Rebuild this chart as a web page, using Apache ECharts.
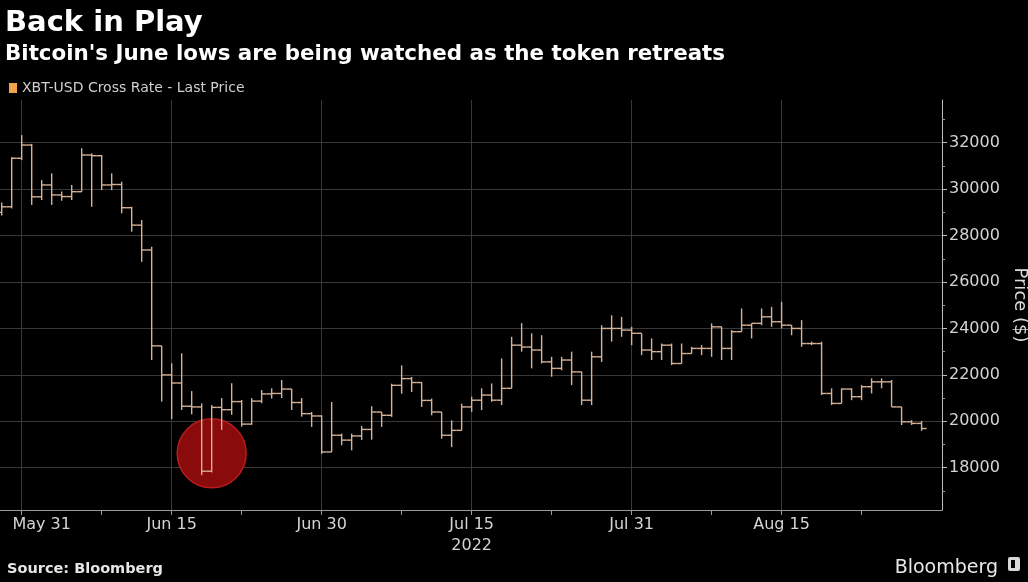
<!DOCTYPE html>
<html>
<head>
<meta charset="utf-8">
<script src="https://cdn.jsdelivr.net/npm/echarts@6/dist/echarts.min.js"></script>
<style>
html,body{margin:0;padding:0;background:#000;}
#chart{width:1028px;height:582px;}
</style>
</head>
<body>
<div id="chart"></div>
<script>
// ---- DATA ----
const dates = [
  '2022-05-29','2022-05-30','2022-05-31',
  '2022-06-01','2022-06-02','2022-06-03','2022-06-04','2022-06-05','2022-06-06','2022-06-07','2022-06-08','2022-06-09','2022-06-10',
  '2022-06-11','2022-06-12','2022-06-13','2022-06-14','2022-06-15','2022-06-16','2022-06-17','2022-06-18','2022-06-19','2022-06-20',
  '2022-06-21','2022-06-22','2022-06-23','2022-06-24','2022-06-25','2022-06-26','2022-06-27','2022-06-28','2022-06-29','2022-06-30',
  '2022-07-01','2022-07-02','2022-07-03','2022-07-04','2022-07-05','2022-07-06','2022-07-07','2022-07-08','2022-07-09','2022-07-10',
  '2022-07-11','2022-07-12','2022-07-13','2022-07-14','2022-07-15','2022-07-16','2022-07-17','2022-07-18','2022-07-19','2022-07-20',
  '2022-07-21','2022-07-22','2022-07-23','2022-07-24','2022-07-25','2022-07-26','2022-07-27','2022-07-28','2022-07-29','2022-07-30','2022-07-31',
  '2022-08-01','2022-08-02','2022-08-03','2022-08-04','2022-08-05','2022-08-06','2022-08-07','2022-08-08','2022-08-09','2022-08-10',
  '2022-08-11','2022-08-12','2022-08-13','2022-08-14','2022-08-15','2022-08-16','2022-08-17','2022-08-18','2022-08-19','2022-08-20',
  '2022-08-21','2022-08-22','2022-08-23','2022-08-24','2022-08-25','2022-08-26','2022-08-27','2022-08-28','2022-08-29'
];
const opens = [
  29000,29240,31330,
  31900,29670,30180,29750,29680,29890,31470,31440,30180,30200,
  29200,28450,27380,23250,22000,21650,20650,20620,17850,20600,
  20500,20850,19880,20870,21180,21200,21390,20810,20330,20230,
  18680,19400,19190,19370,19650,20400,20260,21550,21840,21670,
  20900,20400,19400,19610,20620,20910,21130,20910,21420,23280,
  23200,23070,22560,22280,22640,22130,20910,22780,24000,24000,23930,
  23790,23070,23000,23280,22490,22920,23140,23140,24070,23140,
  23860,24140,24220,24500,24290,24140,24000,23350,23350,21200,
  20770,21390,21060,21490,21700,21700,20620,19980,19910
];
const highs = [
  29430,31380,32330,
  31950,30390,30680,29900,30180,31760,31540,31470,30680,30320,
  29240,28670,27520,23250,22500,22930,21300,20770,20700,21000,
  21640,20920,21000,21350,21420,21780,21400,21000,20400,20260,
  20830,19470,19470,19800,20650,20400,21620,22410,21910,21690,
  20980,20400,20040,20760,21060,21420,21630,22710,23640,24230,
  23790,23710,22780,22780,23000,22130,23000,24140,24570,24500,24070,
  23790,23570,23350,23350,23350,23210,23280,24220,24070,23930,
  24860,24220,24860,24930,25150,24140,24360,23430,23430,21420,
  21420,21420,21560,21850,21850,21780,20620,20050,20020
];
const lows = [
  28860,29170,31250,
  29320,29530,29320,29500,29530,29890,29240,29960,29960,28960,
  28170,26870,22640,20850,20100,20490,20300,17680,17800,19630,
  20280,19770,19850,20780,20980,21000,20490,20200,19760,18600,
  18680,18970,18750,19200,19210,19760,20190,21190,21260,20620,
  20260,19250,18890,19610,20410,20480,20840,20700,21420,23000,
  22280,22490,21920,22200,21560,20700,20700,22560,23430,23640,23280,
  22850,22640,22640,22420,22490,22920,22850,22780,22640,22640,
  23860,23570,24140,24070,24000,23710,23210,23280,21130,20700,
  20770,20910,20910,21200,21420,20620,19840,19840,19590
];
const closes = [
  29240,31330,31900,
  29670,30180,29750,29680,29890,31470,31440,30180,30200,29200,
  28450,27380,23250,22000,21650,20650,20620,17850,20600,20500,
  20850,19880,20870,21180,21200,21390,20810,20330,20230,18680,
  19400,19190,19370,19650,20400,20260,21550,21840,21670,20900,
  20400,19400,19610,20620,20910,21130,20910,21420,23280,23200,
  23070,22560,22280,22640,22130,20910,22780,24000,24000,23930,23790,
  23070,23000,23280,22490,22920,23140,23140,24070,23140,23860,
  24140,24220,24500,24290,24140,24000,23350,23350,21200,20770,
  21390,21060,21490,21700,21700,20620,19980,19910,19690
];
const seriesName = 'XBT-USD Cross Rate - Last Price';
const xLabelDates = ['2022-05-31','2022-06-15','2022-06-30','2022-07-15','2022-07-31','2022-08-15'];
const xLabelTexts = ['May 31','Jun 15','Jun 30','Jul 15\n2022','Jul 31','Aug 15'];
const xMinorTickDates = ['2022-06-08','2022-06-22','2022-07-08','2022-07-23','2022-08-08','2022-08-23'];
const xRangeStart = '2022-05-28 19:55';
const xRangeEnd = '2022-08-31 01:00';
const yTicks = [18000,20000,22000,24000,26000,28000,30000,32000];
const yMinorTicks = [17000,19000,21000,23000,25000,27000,29000,31000,33000];
const highlightDate = ['2022-06-19'];
const highlightPrice = [18620];

// ---- CHART ----
const FONT = 'DejaVu Sans';
const DAY = 86400000;
const BAR_COLOR = '#d6b296';
const chart = echarts.init(document.getElementById('chart'), null, {renderer: 'canvas'});

// parse 'YYYY-MM-DD[ HH:mm]' as a local timestamp
function ts(s){
  const [d, t] = s.split(' ');
  const [y, m, dd] = d.split('-').map(Number);
  let hh = 0, mm = 0;
  if (t) { [hh, mm] = t.split(':').map(Number); }
  return new Date(y, m - 1, dd, hh, mm).getTime();
}
const xLabelValues = xLabelDates.map(ts);
const xMinorValues = xMinorTickDates.map(ts);
const xMin = ts(xRangeStart), xMax = ts(xRangeEnd);

const ohlc = dates.map((d, i) => [ts(d), opens[i], highs[i], lows[i], closes[i]]);

const option = {
  backgroundColor: '#000',
  animation: false,
  textStyle: {fontFamily: FONT},
  title: [
    {text: 'Back in Play', left: 0, top: 4, textStyle: {color: '#fff', fontSize: 29, fontWeight: 'bold', fontFamily: FONT}},
    {text: "Bitcoin's June lows are being watched as the token retreats", left: 0, top: 39,
     textStyle: {color: '#fff', fontSize: 21.4, fontWeight: 'bold', fontFamily: FONT}},
    {text: 'Source: Bloomberg', left: 2, top: 557, textStyle: {color: '#e6e6e6', fontSize: 14.5, fontWeight: 'bold', fontFamily: FONT}},
    {text: 'Bloomberg', right: 25, top: 554, textStyle: {color: '#e8e8e8', fontSize: 19, fontWeight: 'normal', fontFamily: FONT}}
  ],
  legend: {
    data: [seriesName], left: 4, top: 76, icon: 'rect', itemWidth: 8, itemHeight: 10, itemGap: 10,
    textStyle: {color: '#cfcfcf', fontSize: 14, fontFamily: FONT}, selectedMode: false
  },
  graphic: [
    {type: 'rect', left: 1008, top: 557, shape: {width: 12, height: 14, r: 2}, style: {fill: '#d8d8d8'}},
    {type: 'rect', left: 1011, top: 560, shape: {width: 4, height: 8}, style: {fill: '#000'}}
  ],
  grid: {left: 0, right: 86, top: 100, bottom: 72, containLabel: false, outerBoundsMode: 'none'},
  xAxis: [
    {
      type: 'value', position: 'bottom', min: xMin, max: xMax, scale: true,
      axisLine: {show: true, onZero: false, lineStyle: {color: '#9a9a9a', width: 1}},
      axisTick: {show: true, customValues: xLabelValues, length: 5, lineStyle: {color: '#9a9a9a'}},
      axisLabel: {
        customValues: xLabelValues, color: '#d4d4d4', fontSize: 16, fontFamily: FONT, margin: 4, lineHeight: 21,
        formatter: function (v) {
          const i = xLabelValues.indexOf(v);
          if (i === 0) return '{first|' + xLabelTexts[i] + '}';
          return i >= 0 ? xLabelTexts[i] : '';
        },
        rich: {first: {padding: [0, 0, 0, 40], color: '#d4d4d4', fontSize: 16, fontFamily: FONT}}
      },
      splitLine: {show: true, lineStyle: {color: '#383838', width: 1}}
    },
    {
      type: 'value', position: 'bottom', min: xMin, max: xMax, scale: true,
      axisLine: {show: false, onZero: false},
      axisTick: {show: true, customValues: xMinorValues, length: 5, lineStyle: {color: '#9a9a9a'}},
      axisLabel: {show: false},
      splitLine: {show: false}
    }
  ],
  yAxis: [
    {
      type: 'value', position: 'right', min: 16180, max: 33840,
      axisLine: {show: true, onZero: false, lineStyle: {color: '#bdbdbd', width: 1}},
      axisTick: {show: true, customValues: yTicks, length: 5, lineStyle: {color: '#bdbdbd'}},
      axisLabel: {customValues: yTicks, color: '#d4d4d4', fontSize: 16, fontFamily: FONT, margin: 7,
                  formatter: v => String(v)},
      splitLine: {show: true, lineStyle: {color: '#383838', width: 1}},
      name: 'Price ($)', nameLocation: 'middle', nameRotate: -90, nameGap: 62,
      nameTextStyle: {color: '#dcdcdc', fontSize: 18, fontFamily: FONT}
    },
    {
      type: 'value', position: 'right', min: 16180, max: 33840,
      axisLine: {show: false, onZero: false},
      axisTick: {show: true, customValues: yMinorTicks, length: 3, lineStyle: {color: '#9a9a9a'}},
      axisLabel: {show: false},
      splitLine: {show: false}
    }
  ],
  series: [
    {
      name: 'June low', type: 'scatter', xAxisIndex: 0, yAxisIndex: 0, z: 1, silent: true,
      symbol: 'circle', symbolSize: 69,
      itemStyle: {color: '#8a0b0b', borderColor: '#b81c1c', borderWidth: 1.5, opacity: 1},
      data: highlightDate.map((d, i) => [ts(d), highlightPrice[i]])
    },
    {
      name: seriesName, type: 'custom', xAxisIndex: 0, yAxisIndex: 0, z: 3, clip: true,
      itemStyle: {color: '#f2a14d'},
      encode: {x: 0, y: [1, 2, 3, 4]},
      data: ohlc,
      renderItem: function (params, api) {
        const t = api.value(0);
        const o = api.coord([t, api.value(1)]);
        const h = api.coord([t, api.value(2)]);
        const l = api.coord([t, api.value(3)]);
        const c = api.coord([t, api.value(4)]);
        const half = api.size([DAY, 0])[0] / 2;
        const st = {stroke: BAR_COLOR, lineWidth: 1.4};
        return {
          type: 'group',
          children: [
            {type: 'line', shape: {x1: h[0], y1: h[1], x2: l[0], y2: l[1]}, style: st},
            {type: 'line', shape: {x1: o[0] - half, y1: o[1], x2: o[0], y2: o[1]}, style: st},
            {type: 'line', shape: {x1: c[0], y1: c[1], x2: c[0] + half, y2: c[1]}, style: st}
          ]
        };
      }
    }
  ]
};
chart.setOption(option);
</script>
</body>
</html>
